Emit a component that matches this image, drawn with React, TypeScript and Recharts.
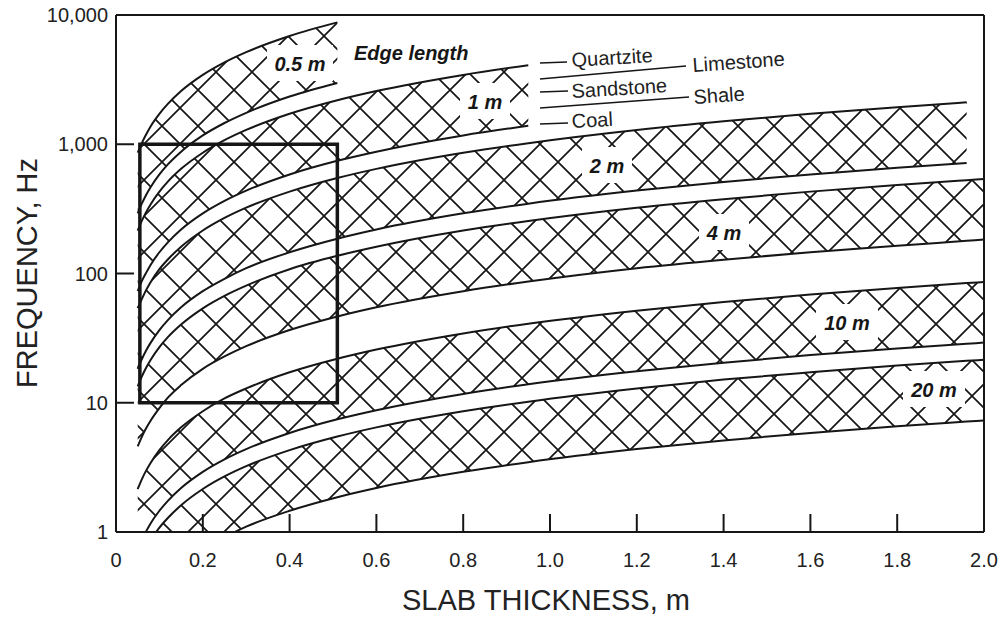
import React from 'react';
import { ComposedChart, Area, XAxis, YAxis, ReferenceArea } from 'recharts';

// slab thickness, m
const thickness = [0.05, 0.06, 0.07, 0.08, 0.1, 0.12, 0.15, 0.2, 0.25, 0.3, 0.4, 0.51, 0.6, 0.8, 0.95, 1.2, 1.4, 1.6, 1.8, 1.96, 2.0];

// frequency bands (Hz), upper = quartzite, lower = coal
const upper05 = [860, 1030, 1200, 1380, 1720, 2060, 2580, 3440, 4300, 5160, 6880, 8770, null, null, null, null, null, null, null, null, null];
const lower05 = [292, 350, 409, 467, 584, 701, 876, 1170, 1460, 1750, 2340, 2980, null, null, null, null, null, null, null, null, null];
const upper1 = [215, 258, 301, 344, 430, 516, 645, 860, 1075, 1290, 1720, 2190, 2580, 3440, 4090, null, null, null, null, null, null];
const lower1 = [73, 88, 102, 117, 146, 175, 219, 292, 365, 438, 584, 745, 876, 1170, 1390, null, null, null, null, null, null];
const upper2 = [54, 64, 75, 86, 108, 129, 161, 215, 269, 323, 430, 548, 645, 860, 1020, 1290, 1505, 1720, 1935, 2110, null];
const lower2 = [18.3, 21.9, 25.6, 29.2, 36.5, 43.8, 54.8, 73, 91, 110, 146, 186, 219, 292, 347, 438, 511, 584, 657, 715, null];
const upper4 = [13.4, 16.1, 18.8, 21.5, 26.9, 32.3, 40.3, 53.8, 67.2, 80.6, 108, 137, 161, 215, 255, 323, 376, 430, 484, 527, 538];
const lower4 = [4.6, 5.5, 6.4, 7.3, 9.1, 11, 13.7, 18.3, 22.8, 27.4, 36.5, 46.5, 54.8, 73, 86.7, 110, 128, 146, 164, 179, 183];
const upper10 = [2.15, 2.58, 3.01, 3.44, 4.3, 5.16, 6.45, 8.6, 10.8, 12.9, 17.2, 21.9, 25.8, 34.4, 40.9, 51.6, 60.2, 68.8, 77.4, 84.3, 86];
const lower10 = [0.73, 0.88, 1.02, 1.17, 1.46, 1.75, 2.19, 2.92, 3.65, 4.38, 5.84, 7.45, 8.76, 11.7, 13.9, 17.5, 20.4, 23.4, 26.3, 28.6, 29.2];
const upper20 = [0.54, 0.65, 0.75, 0.86, 1.08, 1.29, 1.61, 2.15, 2.69, 3.23, 4.3, 5.48, 6.45, 8.6, 10.2, 12.9, 15.1, 17.2, 19.4, 21.1, 21.5];
const lower20 = [0.18, 0.22, 0.26, 0.29, 0.37, 0.44, 0.55, 0.73, 0.91, 1.1, 1.46, 1.86, 2.19, 2.92, 3.47, 4.38, 5.11, 5.84, 6.57, 7.15, 7.3];

const xTicks = [0, 0.2, 0.4, 0.6, 0.8, 1.0, 1.2, 1.4, 1.6, 1.8, 2.0];
const yTicks = [1, 10, 100, 1000, 10000];

const bands = [
  { key: 'b05', lower: lower05, upper: upper05 },
  { key: 'b1', lower: lower1, upper: upper1 },
  { key: 'b2', lower: lower2, upper: upper2 },
  { key: 'b4', lower: lower4, upper: upper4 },
  { key: 'b10', lower: lower10, upper: upper10 },
  { key: 'b20', lower: lower20, upper: upper20 },
];

const rows = thickness.map((x, i) => {
  const row: Record<string, any> = { x };
  bands.forEach(b => {
    row[b.key] = b.lower[i] == null ? null : [b.lower[i], b.upper[i]];
  });
  return row;
});

const FONT = '"Liberation Sans", Arial, Helvetica, sans-serif';
const INK = '#161616';

// label placement (pixels in the picture)
const bandLabels = [
  { text: '0.5 m', x: 300, y: 71, w: 66 },
  { text: '1 m', x: 485, y: 109, w: 50 },
  { text: '2 m', x: 607, y: 173, w: 50 },
  { text: '4 m', x: 724, y: 240, w: 50 },
  { text: '10 m', x: 847, y: 330, w: 62 },
  { text: '20 m', x: 934, y: 397, w: 62 },
];

const fmtX = (v: number) => (v === 0 ? '0' : v.toFixed(1));
const fmtY = (v: number) => v.toLocaleString('en-US');

const tickStyle = { fontSize: 20, fill: '#222', fontFamily: FONT };

export default function App() {
  return (
    <div style={{ position: 'absolute', left: 0, top: 0, width: 1002, height: 618, background: '#fff' }}>
      <svg width={0} height={0} style={{ position: 'absolute' }}>
        <defs>
          <pattern id="xhatch" patternUnits="userSpaceOnUse" width={36} height={36}>
            <path d="M0,0 L36,36 M36,0 L0,36" stroke={INK} strokeWidth={1.7} fill="none" />
          </pattern>
        </defs>
      </svg>
      <ComposedChart
        width={1002}
        height={618}
        data={rows}
        margin={{ top: 14, right: 17, left: 16, bottom: 46 }}
      >
        <XAxis
          xAxisId="bottom"
          dataKey="x"
          type="number"
          domain={[0, 2]}
          ticks={xTicks}
          tickFormatter={fmtX}
          height={40}
          tickSize={-18}
          tickMargin={39}
          axisLine={{ stroke: INK, strokeWidth: 2 }}
          tickLine={{ stroke: INK, strokeWidth: 2 }}
          tick={tickStyle}
          interval={0}
        />
        <XAxis
          xAxisId="top"
          orientation="top"
          dataKey="x"
          type="number"
          domain={[0, 2]}
          ticks={xTicks}
          height={1}
          tickSize={-18}
          tick={false}
          axisLine={{ stroke: INK, strokeWidth: 2 }}
          tickLine={{ stroke: INK, strokeWidth: 2 }}
          interval={0}
        />
        <YAxis
          yAxisId="left"
          scale="log"
          type="number"
          domain={[1, 10000]}
          ticks={yTicks}
          tickFormatter={fmtY}
          allowDataOverflow
          width={100}
          tickSize={-18}
          tickMargin={26}
          axisLine={{ stroke: INK, strokeWidth: 2 }}
          tickLine={{ stroke: INK, strokeWidth: 2 }}
          tick={tickStyle}
          interval={0}
        />
        <YAxis
          yAxisId="right"
          orientation="right"
          scale="log"
          type="number"
          domain={[1, 10000]}
          ticks={yTicks}
          allowDataOverflow
          width={1}
          tickSize={-18}
          tick={false}
          axisLine={{ stroke: INK, strokeWidth: 2 }}
          tickLine={{ stroke: INK, strokeWidth: 2 }}
          interval={0}
        />
        {bands.map(b => (
          <Area
            key={b.key}
            xAxisId="bottom"
            yAxisId="left"
            dataKey={b.key}
            type="monotone"
            stroke={INK}
            strokeWidth={2}
            fill="url(#xhatch)"
            fillOpacity={1}
            dot={false}
            activeDot={false}
            isAnimationActive={false}
          />
        ))}
        <ReferenceArea
          xAxisId="bottom"
          yAxisId="left"
          x1={0.055}
          x2={0.51}
          y1={10}
          y2={1000}
          fill="none"
          fillOpacity={0}
          stroke={INK}
          strokeWidth={3.5}
          ifOverflow="visible"
        />
      </ComposedChart>
      <svg
        width={1002}
        height={618}
        style={{ position: 'absolute', left: 0, top: 0, pointerEvents: 'none' }}
        fontFamily={FONT}
      >
        {bandLabels.map(l => (
          <g key={l.text}>
            <rect x={l.x - l.w / 2} y={l.y - 26} width={l.w} height={36} fill="#fff" />
            <text x={l.x} y={l.y} textAnchor="middle" fontSize={20} fontWeight="bold" fontStyle="italic" fill={INK}>
              {l.text}
            </text>
          </g>
        ))}
        <text x={354} y={60} fontSize={20} fontWeight="bold" fontStyle="italic" fill={INK}>
          Edge length
        </text>
        <g stroke={INK} strokeWidth={1.5}>
          <line x1={540} y1={63} x2={567} y2={62} />
          <line x1={540} y1={79} x2={686} y2={66} />
          <line x1={540} y1={92} x2={568} y2={91} />
          <line x1={540} y1={108} x2={689} y2={97} />
          <line x1={540} y1={124} x2={568} y2={123} />
        </g>
        <g fontSize={20} fill="#222">
          <text x={572} y={67} transform="rotate(-3.5 572 67)">Quartzite</text>
          <text x={693} y={72} transform="rotate(-4 693 72)">Limestone</text>
          <text x={572} y={98} transform="rotate(-3.5 572 98)">Sandstone</text>
          <text x={694} y={104} transform="rotate(-4 694 104)">Shale</text>
          <text x={572} y={128} transform="rotate(-3 572 128)">Coal</text>
        </g>
        <text x={546} y={610} textAnchor="middle" fontSize={29} fill="#222">
          SLAB THICKNESS, m
        </text>
        <text x={37} y={273} textAnchor="middle" fontSize={29} fill="#222" transform="rotate(-90 37 273)">
          FREQUENCY, Hz
        </text>
      </svg>
    </div>
  );
}
